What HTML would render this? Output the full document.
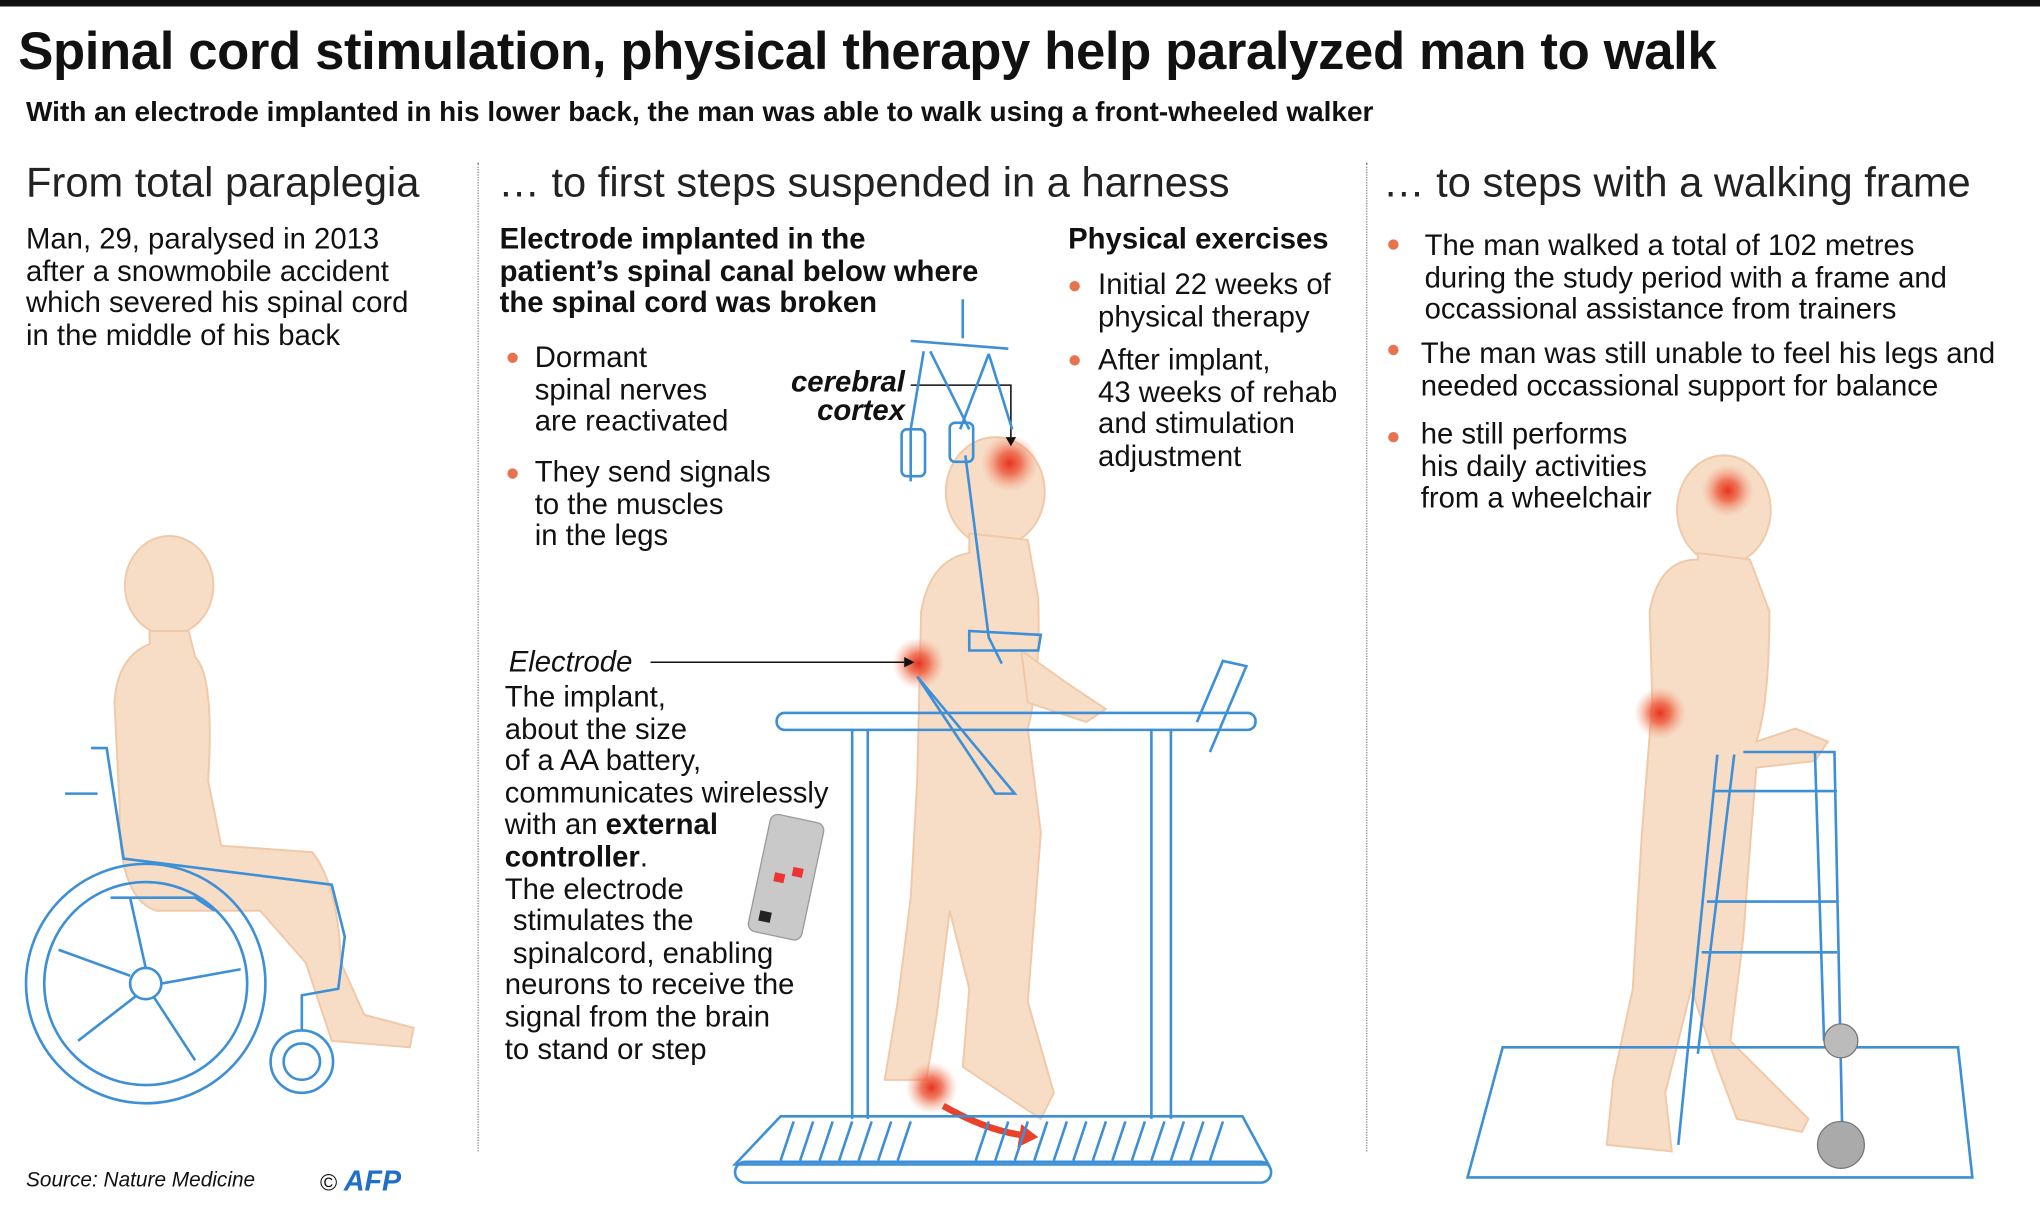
<!DOCTYPE html>
<html><head><meta charset="utf-8">
<style>
html,body{margin:0;padding:0;background:#fff;}
body{width:2040px;height:1212px;overflow:hidden;position:relative;}
#w{position:absolute;left:0;top:0;width:1568px;height:932px;transform:scale(1.30102);transform-origin:0 0;font-family:"Liberation Sans",sans-serif;color:#111;}
.a{position:absolute;white-space:nowrap;}
.h{font-size:32px;font-weight:300;color:#222;}
.t{font-size:22.5px;line-height:24.6px;}
.b{font-weight:bold;}
.dot{position:absolute;width:8px;height:8px;border-radius:50%;background:#e8734f;}
.div{position:absolute;top:125px;height:760px;border-left:1.5px dotted #888;}
</style></head><body><div id="w">
<div style="position:absolute;left:0;top:0;width:1568px;height:5px;background:#111"></div>
<div class="a b" style="left:14px;top:16px;font-size:40.5px;letter-spacing:-0.3px">Spinal cord stimulation, physical therapy help paralyzed man to walk</div>
<div class="a b" style="left:20px;top:74px;font-size:21.5px">With an electrode implanted in his lower back, the man was able to walk using a front-wheeled walker</div>
<div class="div" style="left:367px"></div>
<div class="div" style="left:1050px"></div>

<div class="a h" style="left:20px;top:122px">From total paraplegia</div>
<div class="a t" style="left:20px;top:172px">Man, 29, paralysed in 2013<br>after a snowmobile accident<br>which severed his spinal cord<br>in the middle of his back</div>

<div class="a h" style="left:383px;top:122px">… to first steps suspended in a harness</div>
<div class="a t b" style="left:384px;top:172px">Electrode implanted in the<br>patient’s spinal canal below where<br>the spinal cord was broken</div>
<div class="dot" style="left:390px;top:271px"></div>
<div class="a t" style="left:411px;top:263px">Dormant<br>spinal nerves<br>are reactivated</div>
<div class="dot" style="left:390px;top:360px"></div>
<div class="a t" style="left:411px;top:351px">They send signals<br>to the muscles<br>in the legs</div>
<div class="a t b" style="left:608px;top:283px;font-style:italic;text-align:right;line-height:22px">cerebral<br>&nbsp;&nbsp;&nbsp;cortex</div>
<div class="a t" style="left:391px;top:497px;font-style:italic">Electrode</div>
<div class="a t" style="left:388px;top:524px">The implant,<br>about the size<br>of a AA battery,<br>communicates wirelessly<br>with an <b>external</b><br><b>controller</b>.<br>The electrode<br>&nbsp;stimulates the<br>&nbsp;spinalcord, enabling<br>neurons to receive the<br>signal from the brain<br>to stand or step</div>
<div class="a t b" style="left:821px;top:172px">Physical exercises</div>
<div class="dot" style="left:822px;top:216px"></div>
<div class="a t" style="left:844px;top:207px">Initial 22 weeks of<br>physical therapy</div>
<div class="dot" style="left:822px;top:273px"></div>
<div class="a t" style="left:844px;top:265px">After implant,<br>43 weeks of rehab<br>and stimulation<br>adjustment</div>

<div class="a h" style="left:1063px;top:122px">… to steps with a walking frame</div>
<div class="dot" style="left:1067px;top:184px"></div>
<div class="a t" style="left:1095px;top:177px">The man walked a total of 102 metres<br>during the study period with a frame and<br>occassional assistance from trainers</div>
<div class="dot" style="left:1067px;top:265px"></div>
<div class="a t" style="left:1092px;top:260px">The man was still unable to feel his legs and<br>needed occassional support for balance</div>
<div class="dot" style="left:1067px;top:332px"></div>
<div class="a t" style="left:1092px;top:322px">he still performs<br>his daily activities<br>from a wheelchair</div>

<div class="a" style="left:20px;top:899px;font-size:16px;font-style:italic">Source: Nature Medicine</div>
<div class="a" style="left:246px;top:895px;font-size:18px">© <b style="color:#1f6fc9;font-style:italic;font-size:22px">AFP</b></div>

<svg width="1568" height="932" style="position:absolute;left:0;top:0" xmlns="http://www.w3.org/2000/svg">
<defs><radialGradient id="g"><stop offset="0" stop-color="#e8321f"/><stop offset=".4" stop-color="#ec5a3c" stop-opacity=".8"/><stop offset="1" stop-color="#f4a080" stop-opacity="0"/></radialGradient></defs>
<g fill="#f7dcc6" stroke="#f0c9a9" stroke-width="1.5">
<ellipse cx="130" cy="450" rx="34" ry="38"/>
<path d="M115 485 L145 485 L150 505 Q165 520 160 600 L170 650 L240 655 Q260 680 262 740 L280 780 L318 790 L315 805 L255 800 L235 740 L200 700 L120 700 Q90 690 92 620 L88 540 Q90 505 115 495Z"/>
<ellipse cx="765" cy="378" rx="38" ry="42"/>
<path d="M745 410 L790 415 L798 460 Q800 520 790 560 L800 640 L790 770 L810 840 L800 860 L740 820 L745 760 L730 700 L720 780 L712 830 L680 830 L690 770 L700 690 L705 600 L708 470 Q715 430 745 425Z"/>
<path d="M785 500 L820 525 L850 545 L835 555 L790 540Z"/>
<ellipse cx="1325" cy="392" rx="36" ry="42"/>
<path d="M1305 425 L1345 430 L1360 470 Q1360 540 1350 570 L1380 560 L1405 570 L1395 585 L1350 590 Q1345 650 1340 720 L1330 800 L1390 860 L1385 870 L1335 860 L1320 820 L1300 760 L1280 840 L1285 885 L1235 880 L1240 830 L1255 760 L1262 640 L1270 540 L1268 470 Q1275 430 1305 430Z"/>
</g>
<circle cx="776" cy="356" r="22" fill="url(#g)"/>
<circle cx="706" cy="510" r="20" fill="url(#g)"/>
<circle cx="716" cy="836" r="20" fill="url(#g)"/>
<circle cx="1328" cy="377" r="20" fill="url(#g)"/>
<circle cx="1276" cy="548" r="20" fill="url(#g)"/>
<path d="M725 850 Q760 870 790 873" fill="none" stroke="#e8432a" stroke-width="5"/>
<path d="M785 864 L798 874 L782 882Z" fill="#e8432a"/>
<g stroke="#111" stroke-width="1.2" fill="none"><path d="M700 296 L777 296 L777 336"/><path d="M500 509 L695 509"/></g>
<path d="M773 336 L781 336 L777 343Z M695 505 L703 509 L695 513Z" fill="#111"/>
<g fill="none" stroke="#3d8fd6" stroke-width="2">
<circle cx="112" cy="756" r="92"/><circle cx="112" cy="756" r="78"/><circle cx="112" cy="756" r="12"/>
<path d="M112 744 L100 690 M124 756 L185 745 M118 766 L150 815 M104 766 L60 800 M100 750 L45 730"/>
<circle cx="232" cy="816" r="24"/><circle cx="232" cy="816" r="14"/>
<path d="M70 575 L82 575 L95 660 L255 680 L265 720 L260 760 L232 765 L232 792 M50 610 L75 610 M85 690 L150 690 L165 700"/>
<path d="M740 230 L740 260 M700 262 L775 268 M710 270 L700 330 L700 370 M760 272 L778 330 M715 270 L745 330 M760 272 L738 330 M742 350 L760 490 L770 510"/>
<rect x="693" y="330" width="18" height="36" rx="4"/><rect x="730" y="325" width="18" height="30" rx="4"/>
<path d="M745 485 L800 488 L798 500 L745 500Z M705 520 L780 610 L765 610Z"/>
<rect x="597" y="548" width="368" height="13" rx="6"/>
<path d="M655 561 L655 860 M667 561 L667 860 M885 561 L885 860 M900 561 L900 860 M920 555 L940 508 L958 512 L930 578"/>
<path d="M600 858 L955 858 L975 895 L565 895Z"/>
<rect x="565" y="893" width="412" height="16" rx="8"/>
<path d="M610 862 L600 892 M625 862 L615 892 M640 862 L630 892 M655 862 L645 892 M670 862 L660 892 M685 862 L675 892 M700 862 L690 892 M760 862 L750 892 M775 862 L765 892 M790 862 L780 892 M805 862 L795 892 M820 862 L810 892 M835 862 L825 892 M850 862 L840 892 M865 862 L855 892 M880 862 L870 892 M895 862 L885 892 M910 862 L900 892 M925 862 L915 892 M940 862 L930 892"/>
<path d="M1155 805 L1505 805 L1516 905 L1128 905Z"/>
<path d="M1320 580 L1290 880 M1333 580 L1305 810 M1340 578 L1410 578 L1416 870 M1395 578 L1402 800 M1318 608 L1412 608 M1312 693 L1412 693 M1308 732 L1412 732"/>
</g>
<circle cx="1415" cy="880" r="18" fill="#aaa" stroke="#777"/><circle cx="1415" cy="800" r="13" fill="#bbb" stroke="#777"/>
<g transform="rotate(12 603 675)"><rect x="583" y="628" width="42" height="92" rx="6" fill="#c9c9c9" stroke="#999"/>
<rect x="595" y="672" width="8" height="7" fill="#e33"/><rect x="608" y="665" width="8" height="7" fill="#e33"/><rect x="590" y="703" width="9" height="8" fill="#222"/></g>
</svg>
</div></body></html>
